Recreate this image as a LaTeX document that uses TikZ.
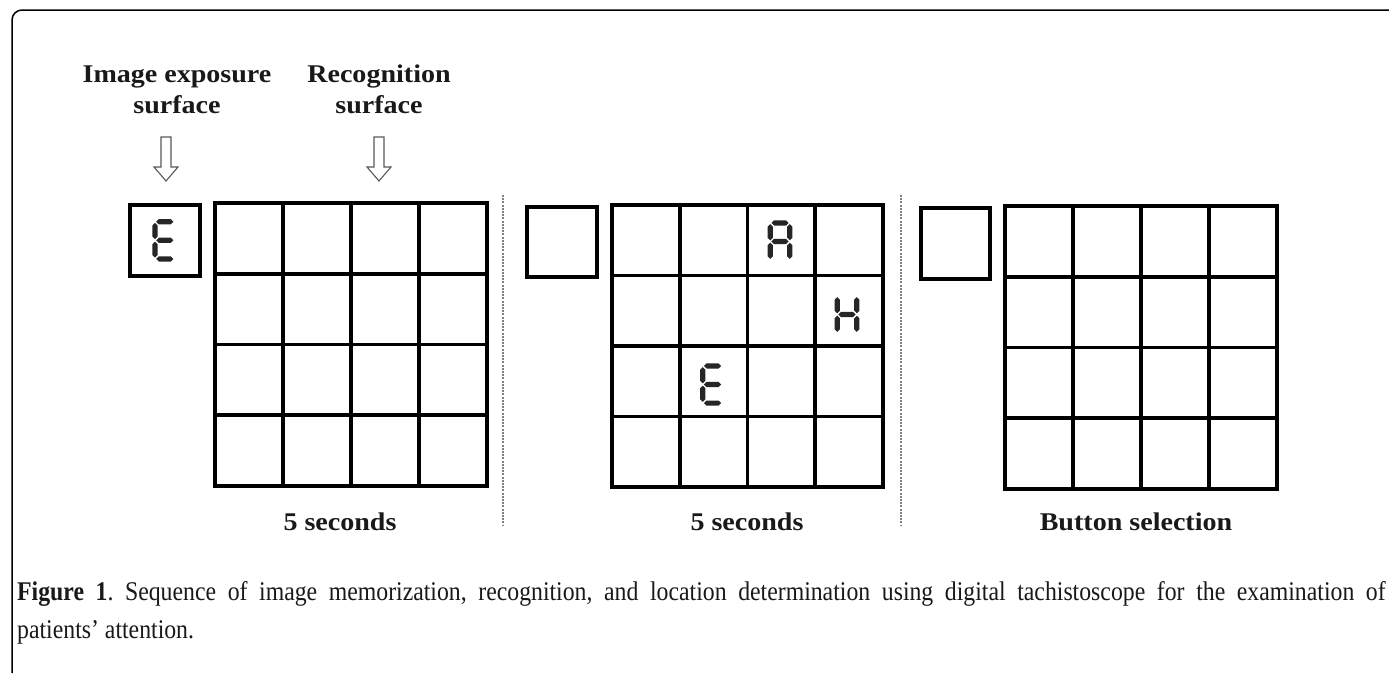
\documentclass[tikz,border=0pt]{standalone}
\usepackage{graphicx}
\usepackage{fontspec}
\setmainfont{Liberation Serif}
\def\st{2.6}
\newcommand\hsg[3]{\fill (#1,#3) -- (#1+\st,#3-\st) -- (#2-\st,#3-\st) -- (#2,#3) -- (#2-\st,#3+\st) -- (#1+\st,#3+\st) -- cycle;}
\newcommand\vsg[3]{\fill (#1,#2) -- (#1+\st,#2+\st) -- (#1+\st,#3-\st) -- (#1,#3) -- (#1-\st,#3-\st) -- (#1-\st,#2+\st) -- cycle;}
\newcommand\sgA{\hsg{-8.6}{8.6}{-18.6}}
\newcommand\sgG{\hsg{-8.6}{8.6}{0}}
\newcommand\sgD{\hsg{-8.6}{8.6}{18.6}}
\newcommand\sgF{\vsg{-9.8}{-17.4}{-1.2}}
\newcommand\sgE{\vsg{-9.8}{1.2}{17.4}}
\newcommand\sgB{\vsg{9.8}{-17.4}{-1.2}}
\newcommand\sgC{\vsg{9.8}{1.2}{17.4}}
\newcommand\sx[1]{\scalebox{1.1}[1]{#1}}
\tikzset{
  x=1pt, y=-1pt,
  cellline/.style={line width=3.6pt, black},
  boxline/.style={line width=3.6pt, black, line join=miter},
  divider/.style={line width=1.3pt, gray, dash pattern=on 2pt off 1.2pt},
  frameline/.style={line width=1.5pt, black, rounded corners=10pt},
  hd/.style={font=\fontsize{25.5}{31}\selectfont\bfseries, text=black!90, inner sep=0pt, anchor=base},
  arrowshape/.style={draw=black!65, line width=1.1pt, fill=white, line join=miter},
  letterE/.pic={\begin{scope}[black!85]\sgA\sgG\sgD\sgF\sgE\end{scope}},
  letterA/.pic={\begin{scope}[black!85]\sgA\sgG\sgB\sgC\sgF\sgE\end{scope}},
  letterH/.pic={\begin{scope}[black!85]\sgG\sgB\sgC\sgF\sgE\end{scope}},
  downarrow/.pic={\draw[arrowshape] (-5,-22) -- (5,-22) -- (5,8) -- (12,8) -- (0,22) -- (-12,8) -- (-5,8) -- cycle;},
}
\begin{document}
\begin{tikzpicture}
\useasboundingbox[fill=white] (0,0) rectangle (1389,673);
% frame
\coordinate (fb) at (12,673);
\coordinate (fr) at (1389,10);
\draw[frameline] (fb) |- (fr);

% headings
\node[hd] (h1a) at (177,82) {\sx{Image exposure}};
\node[hd] (h1b) at (177,113) {\sx{surface}};
\node[hd] (h2a) at (379,82) {\sx{Recognition}};
\node[hd] (h2b) at (379,113) {\sx{surface}};

% arrows
\coordinate (a1) at (166,159);
\coordinate (a2) at (379,159);
\pic at (a1) {downarrow};
\pic at (a2) {downarrow};

% panel 1
\node[draw, boxline, minimum width=70pt, minimum height=71pt, inner sep=0pt, anchor=north west] (box1) at (128,203) {};
\foreach \i in {0,...,4} {
  \draw[cellline] (215+68*\i,203) -- (215+68*\i,486);
  \draw[cellline] (215,203+70.75*\i) -- (487,203+70.75*\i);
}
\draw[boxline] (215,203) rectangle (487,486);
\pic at (box1.center) {letterE};

% divider 1
\coordinate (d1t) at (503,195);
\coordinate (d1b) at (503,525);
\draw[divider] (d1t) -- (d1b);

% panel 2
\node[draw, boxline, minimum width=70pt, minimum height=70pt, inner sep=0pt, anchor=north west] (box2) at (525,205) {};
\foreach \i in {0,...,4} {
  \draw[cellline] (612+67.75*\i,205) -- (612+67.75*\i,487);
  \draw[cellline] (612,205+70.5*\i) -- (883,205+70.5*\i);
}
\draw[boxline] (612,205) rectangle (883,487);
\coordinate (cA) at (780,241.5);
\coordinate (cH) at (847,314.5);
\coordinate (cE) at (712.5,384.5);
\pic at (cA) {letterA};
\pic at (cH) {letterH};
\pic at (cE) {letterE};

% divider 2
\coordinate (d2t) at (901,195);
\coordinate (d2b) at (901,525);
\draw[divider] (d2t) -- (d2b);

% panel 3
\node[draw, boxline, minimum width=69pt, minimum height=71pt, inner sep=0pt, anchor=north west] (box3) at (919,206) {};
\foreach \i in {0,...,4} {
  \draw[cellline] (1005+68*\i,206) -- (1005+68*\i,489);
  \draw[cellline] (1005,206+70.75*\i) -- (1277,206+70.75*\i);
}
\draw[boxline] (1005,206) rectangle (1277,489);

% bottom labels
\node[hd] (t1) at (340,530) {\sx{5 seconds}};
\node[hd] (t2) at (747,530) {\sx{5 seconds}};
\node[hd] (t3) at (1136,530) {\sx{Button selection}};

% caption
\node[inner sep=0pt, anchor=base west, text=black!90] (cap) at (17,600) {\scalebox{0.88}[1]{\parbox[t]{1555pt}{\noindent\fontsize{27}{38.5}\selectfont\frenchspacing\textbf{Figure 1}. Sequence of image memorization, recognition, and location determination using digital tachistoscope for the examination of\linebreak patients’ attention.}}};
\end{tikzpicture}
\end{document}
